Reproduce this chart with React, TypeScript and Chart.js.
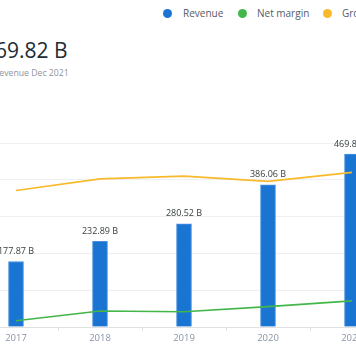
import React, { useEffect, useRef } from 'react';
import { Chart, registerables } from 'chart.js';

Chart.register(...registerables);

const years = ['2017', '2018', '2019', '2020', '2021'];
const revenue = [177.87, 232.89, 280.52, 386.06, 469.82];
const netMargin = [1.71, 4.33, 4.13, 5.53, 7.1];
const grossMargin = [37.07, 40.25, 40.99, 39.57, 42.03];
const seriesNames = ['Revenue', 'Net margin', 'Gross margin'];
const seriesColors = ['#1a74d2', '#43b649', '#f9b92c'];
const headline = '469.82 B';
const subline = 'Revenue Dec 2021';

const FONT = '"Open Sans", "Noto Sans", sans-serif';
const legendDotX = [162.5, 237.5, 322.5];
const legendTextX = [183, 257, 342];

export default function App() {
  const ref = useRef<HTMLCanvasElement>(null);

  useEffect(() => {
    if (!ref.current) return;
    const labelPlugin = {
      id: 'barLabels',
      afterDatasetDraw(chart: any, args: any) {
        if (args.index !== 0) return;
        const { ctx } = chart;
        ctx.save();
        ctx.font = `9px ${FONT}`;
        ctx.fillStyle = '#373d3f';
        ctx.textAlign = 'center';
        ctx.textBaseline = 'middle';
        args.meta.data.forEach((el: any, i: number) => {
          ctx.fillText(`${revenue[i].toFixed(2)} B`, el.x, el.y - 10);
        });
        ctx.restore();
      },
    };
    const chart = new Chart(ref.current, {
      type: 'bar',
      data: {
        labels: years,
        datasets: [
          {
            type: 'bar',
            label: seriesNames[0],
            data: revenue,
            backgroundColor: seriesColors[0],
            borderColor: '#4a92e0',
            borderWidth: 1,
            barThickness: 15,
            yAxisID: 'y',
            order: 2,
          } as any,
          {
            type: 'line',
            label: seriesNames[1],
            data: netMargin,
            borderColor: seriesColors[1],
            borderWidth: 1.6,
            pointRadius: 0,
            tension: 0,
            yAxisID: 'y1',
            order: 1,
          },
          {
            type: 'line',
            label: seriesNames[2],
            data: grossMargin,
            borderColor: seriesColors[2],
            borderWidth: 1.6,
            pointRadius: 0,
            tension: 0,
            yAxisID: 'y1',
            order: 1,
          },
        ],
      },
      options: {
        responsive: false,
        animation: false,
        layout: { padding: { left: 14, right: 26, top: 143, bottom: 17.6 } },
        plugins: { legend: { display: false }, tooltip: { enabled: false } },
        scales: {
          x: {
            grid: { drawOnChartArea: false, drawTicks: true, tickLength: 4, color: '#e0e0e0', offset: true },
            border: { display: true, color: '#e0e0e0' },
            ticks: { color: '#8a94a6', font: { family: FONT, size: 9.5 }, padding: 2 },
          },
          y: {
            min: 0,
            max: 500,
            ticks: { display: false, stepSize: 100 },
            grid: { color: '#eef0f4', drawTicks: false },
            border: { display: false },
          },
          y1: {
            min: 0,
            max: 50,
            display: false,
            position: 'right',
          },
        },
      },
      plugins: [labelPlugin],
    });
    return () => chart.destroy();
  }, []);

  return (
    <div style={{ position: 'fixed', inset: 0, overflow: 'hidden', background: '#fff', fontFamily: FONT }}>
      {seriesNames.map((n, i) => (
        <React.Fragment key={n}>
          <span style={{ position: 'absolute', left: legendDotX[i], top: 8.5, width: 9, height: 9, borderRadius: '50%', background: seriesColors[i] }} />
          <span style={{ position: 'absolute', left: legendTextX[i], top: 5, fontSize: 10, lineHeight: '16px', color: '#555b66', whiteSpace: 'nowrap' }}>{n}</span>
        </React.Fragment>
      ))}
      <div style={{ position: 'absolute', top: 38, left: -17, fontSize: 21, lineHeight: '24px', color: '#222a35', whiteSpace: 'nowrap' }}>{headline}</div>
      <div style={{ position: 'absolute', top: 67, left: -6, fontSize: 8.7, lineHeight: '12px', color: '#8c95a3', whiteSpace: 'nowrap' }}>{subline}</div>
      <canvas ref={ref} width={460} height={364} style={{ position: 'absolute', left: -40, top: 0, width: 460, height: 364 }} />
    </div>
  );
}
